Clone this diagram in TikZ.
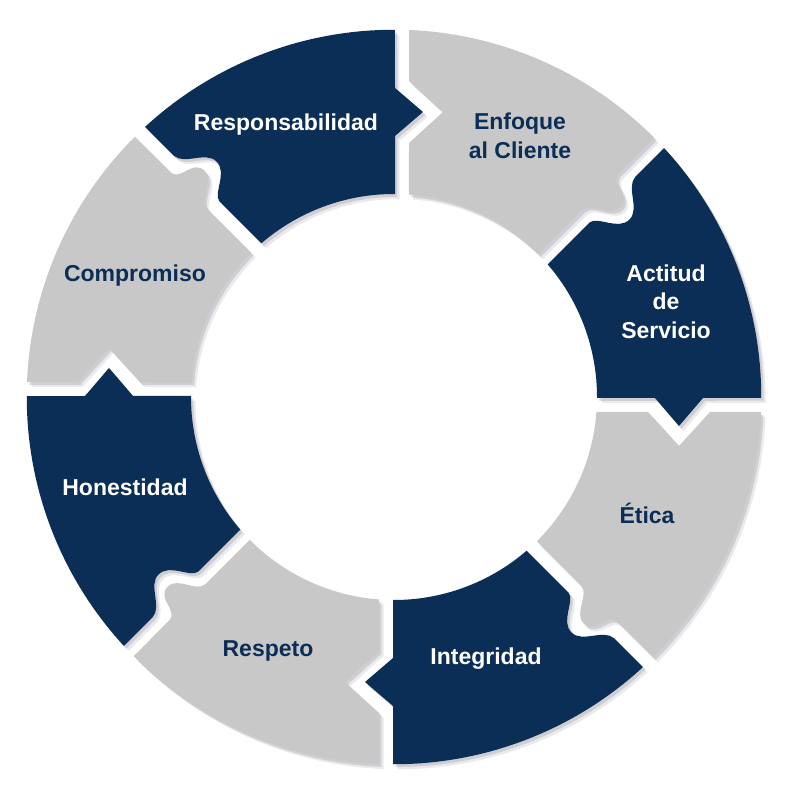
\documentclass[tikz,border=0pt]{standalone}
\usepackage{fontspec}
\setmainfont{Liberation Sans}
\definecolor{navy}{RGB}{11,46,87}
\definecolor{lgrey}{RGB}{200,200,200}
\definecolor{shade}{RGB}{125,125,140}
\newcommand\PP[3]{({394+(#2)*cos(#1)+(#3)*sin(#1)},{403+(#2)*sin(#1)-(#3)*cos(#1)})}
\newcommand\darkshape[1]{%
  \PP{#1+45}{367}{15}
  arc[start angle={#1+45-atan(15/367)}, end angle={#1-atan(1/367)}, radius=367]
  -- \PP{#1}{309}{1} -- \PP{#1}{285}{29} -- \PP{#1}{261}{1}
  -- \PP{#1}{203}{1}
  arc[start angle={#1-atan(1/203)}, end angle={#1+45-atan(15/203)}, radius=203]
  -- \PP{#1+45}{262}{15}
  .. controls \PP{#1+45}{272}{16} and \PP{#1+45}{276}{41} .. \PP{#1+45}{292}{41}
  .. controls \PP{#1+45}{307}{41} and \PP{#1+45}{312}{16} .. \PP{#1+45}{326}{15}
  -- cycle}
\newcommand\greyshape[1]{%
  \PP{#1+45}{367}{15}
  arc[start angle={#1+45-atan(15/367)}, end angle={#1-atan(1/367)}, radius=367]
  -- \PP{#1}{316}{1}
  .. controls \PP{#1}{304}{2} and \PP{#1}{310}{26} .. \PP{#1}{294}{26}
  .. controls \PP{#1}{280}{26} and \PP{#1}{278}{2} .. \PP{#1}{266}{1}
  -- \PP{#1}{203}{1}
  arc[start angle={#1-atan(1/203)}, end angle={#1+45-atan(15/203)}, radius=203]
  -- \PP{#1+45}{254}{15} -- \PP{#1+45}{285}{49} -- \PP{#1+45}{316}{15}
  -- cycle}
\tikzset{
  lbl/.style={font=\bfseries\fontsize{23}{28.5}\selectfont, align=center, inner sep=0pt},
  onDark/.style={lbl, text=white},
  onGrey/.style={lbl, text=navy},
  shA/.style={fill=shade, opacity=.16, shift={(4.5,-5)}},
  shB/.style={fill=shade, opacity=.25, shift={(2.4,-2.8)}},
}
\begin{document}
\begin{tikzpicture}[x=1pt,y=1pt]
\useasboundingbox (0,0) rectangle (800,800);
\fill[white] (0,0) rectangle (800,800);
% shadows
\foreach \q in {90,0,-90,-180} {
  \path[shA] \darkshape{\q};
  \path[shB] \darkshape{\q};
}
\foreach \q in {45,-45,-135,-225} {
  \path[shA] \greyshape{\q};
  \path[shB] \greyshape{\q};
}
% pieces
\foreach \q in {90,0,-90,-180} {
  \fill[navy] \darkshape{\q};
}
\foreach \q in {45,-45,-135,-225} {
  \fill[lgrey] \greyshape{\q};
}
% labels
\node[onDark] (resp) at (286,675) {Responsabilidad};
\node[onGrey] (enf) at (520,664) {Enfoque\\al Cliente};
\node[onDark] (act) at (666,498.5) {Actitud\\de\\Servicio};
\node[onGrey] (eti) at (647,287) {Ética};
\node[onDark] (int) at (486,141) {Integridad};
\node[onGrey] (resq) at (268,149) {Respeto};
\node[onDark] (hon) at (125,313) {Honestidad};
\node[onGrey] (comp) at (135,524) {Compromiso};
\end{tikzpicture}
\end{document}
